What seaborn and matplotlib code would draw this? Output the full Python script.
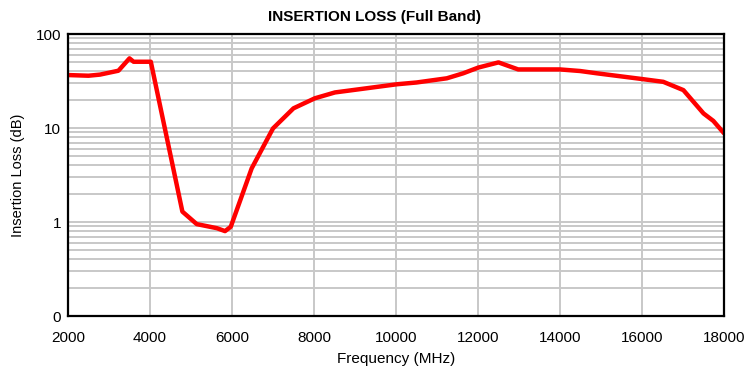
import matplotlib
matplotlib.use("Agg")
import matplotlib.pyplot as plt
from matplotlib.ticker import FixedLocator, FixedFormatter, NullFormatter
import numpy as np
import pandas as pd
import seaborn as sns

# Measured insertion loss across the full band
freq_mhz = [2000, 2500, 2780, 3230, 3500, 3600, 4020, 4790, 5140, 5630, 5830,
            5970, 6480, 7000, 7500, 8020, 8510, 9000, 10020, 10500, 11240,
            11640, 12010, 12500, 12980, 14000, 14490, 14900, 16000, 16520,
            17010, 17500, 17740, 18000]
loss_db = [36.6, 36.0, 37.0, 40.7, 55.1, 50.7, 50.7, 1.29, 0.95, 0.86, 0.80,
           0.89, 3.72, 9.9, 16.2, 20.7, 23.9, 25.5, 29.2, 30.5, 33.8,
           38.2, 44.0, 49.9, 42.0, 42.0, 40.4, 38.2, 33.2, 31.0,
           25.3, 14.3, 11.9, 8.8]

y_ticks = [0.1, 1, 10, 100]
y_tick_labels = ["0", "1", "10", "100"]
x_ticks = list(range(2000, 18001, 2000))

df = pd.DataFrame({"Frequency (MHz)": freq_mhz, "Insertion Loss (dB)": loss_db})

sns.set_style("white")
plt.rcParams["font.family"] = ["Liberation Sans", "DejaVu Sans"]
plt.rcParams["text.color"] = "black"
plt.rcParams["axes.labelcolor"] = "black"
plt.rcParams["xtick.color"] = "black"
plt.rcParams["ytick.color"] = "black"

fig = plt.figure(figsize=(7.48, 3.73), dpi=100)
ax = fig.add_axes([0.0909, 0.1528, 0.8770, 0.7560])

sns.lineplot(data=df, x="Frequency (MHz)", y="Insertion Loss (dB)", ax=ax,
             color="#ff0000", linewidth=3.2, zorder=3)

ax.set_yscale("log")
ax.set_ylim(0.1, 100)
ax.set_xlim(2000, 18000)

ax.yaxis.set_major_locator(FixedLocator(y_ticks))
ax.yaxis.set_major_formatter(FixedFormatter(y_tick_labels))
minor = [m * 10.0 ** e for e in (-1, 0, 1) for m in range(2, 10)]
ax.yaxis.set_minor_locator(FixedLocator(minor))
ax.yaxis.set_minor_formatter(NullFormatter())
ax.set_xticks(x_ticks)

ax.grid(True, which="both", axis="y", color="#c8c8c8", linewidth=1.4, zorder=1)
ax.grid(True, which="major", axis="x", color="#c8c8c8", linewidth=1.4, zorder=1)

for s in ax.spines.values():
    s.set_color("black")
    s.set_linewidth(1.6)
    s.set_zorder(4)

ax.tick_params(axis="both", which="major", direction="out", length=4, width=1.4,
               color="black", labelcolor="black", labelsize=11)
ax.tick_params(axis="x", which="major", pad=7)
ax.tick_params(axis="y", which="major", pad=1)
ax.tick_params(axis="y", which="minor", length=0)

ax.set_xlabel("Frequency (MHz)", fontsize=11, color="black")
ax.set_ylabel("Insertion Loss (dB)", fontsize=10.5, color="black")
ax.xaxis.set_label_coords(0.5, -0.152)
ax.yaxis.set_label_coords(-0.0762, 0.5)
ax.xaxis.label.set_va("center")
ax.yaxis.label.set_va("center")

fig.text(0.5, 1 - 16.5 / 373, "INSERTION LOSS (Full Band)", ha="center",
         va="center", fontsize=11, fontweight="bold", color="black")

fig.savefig("out.png", dpi=100)
